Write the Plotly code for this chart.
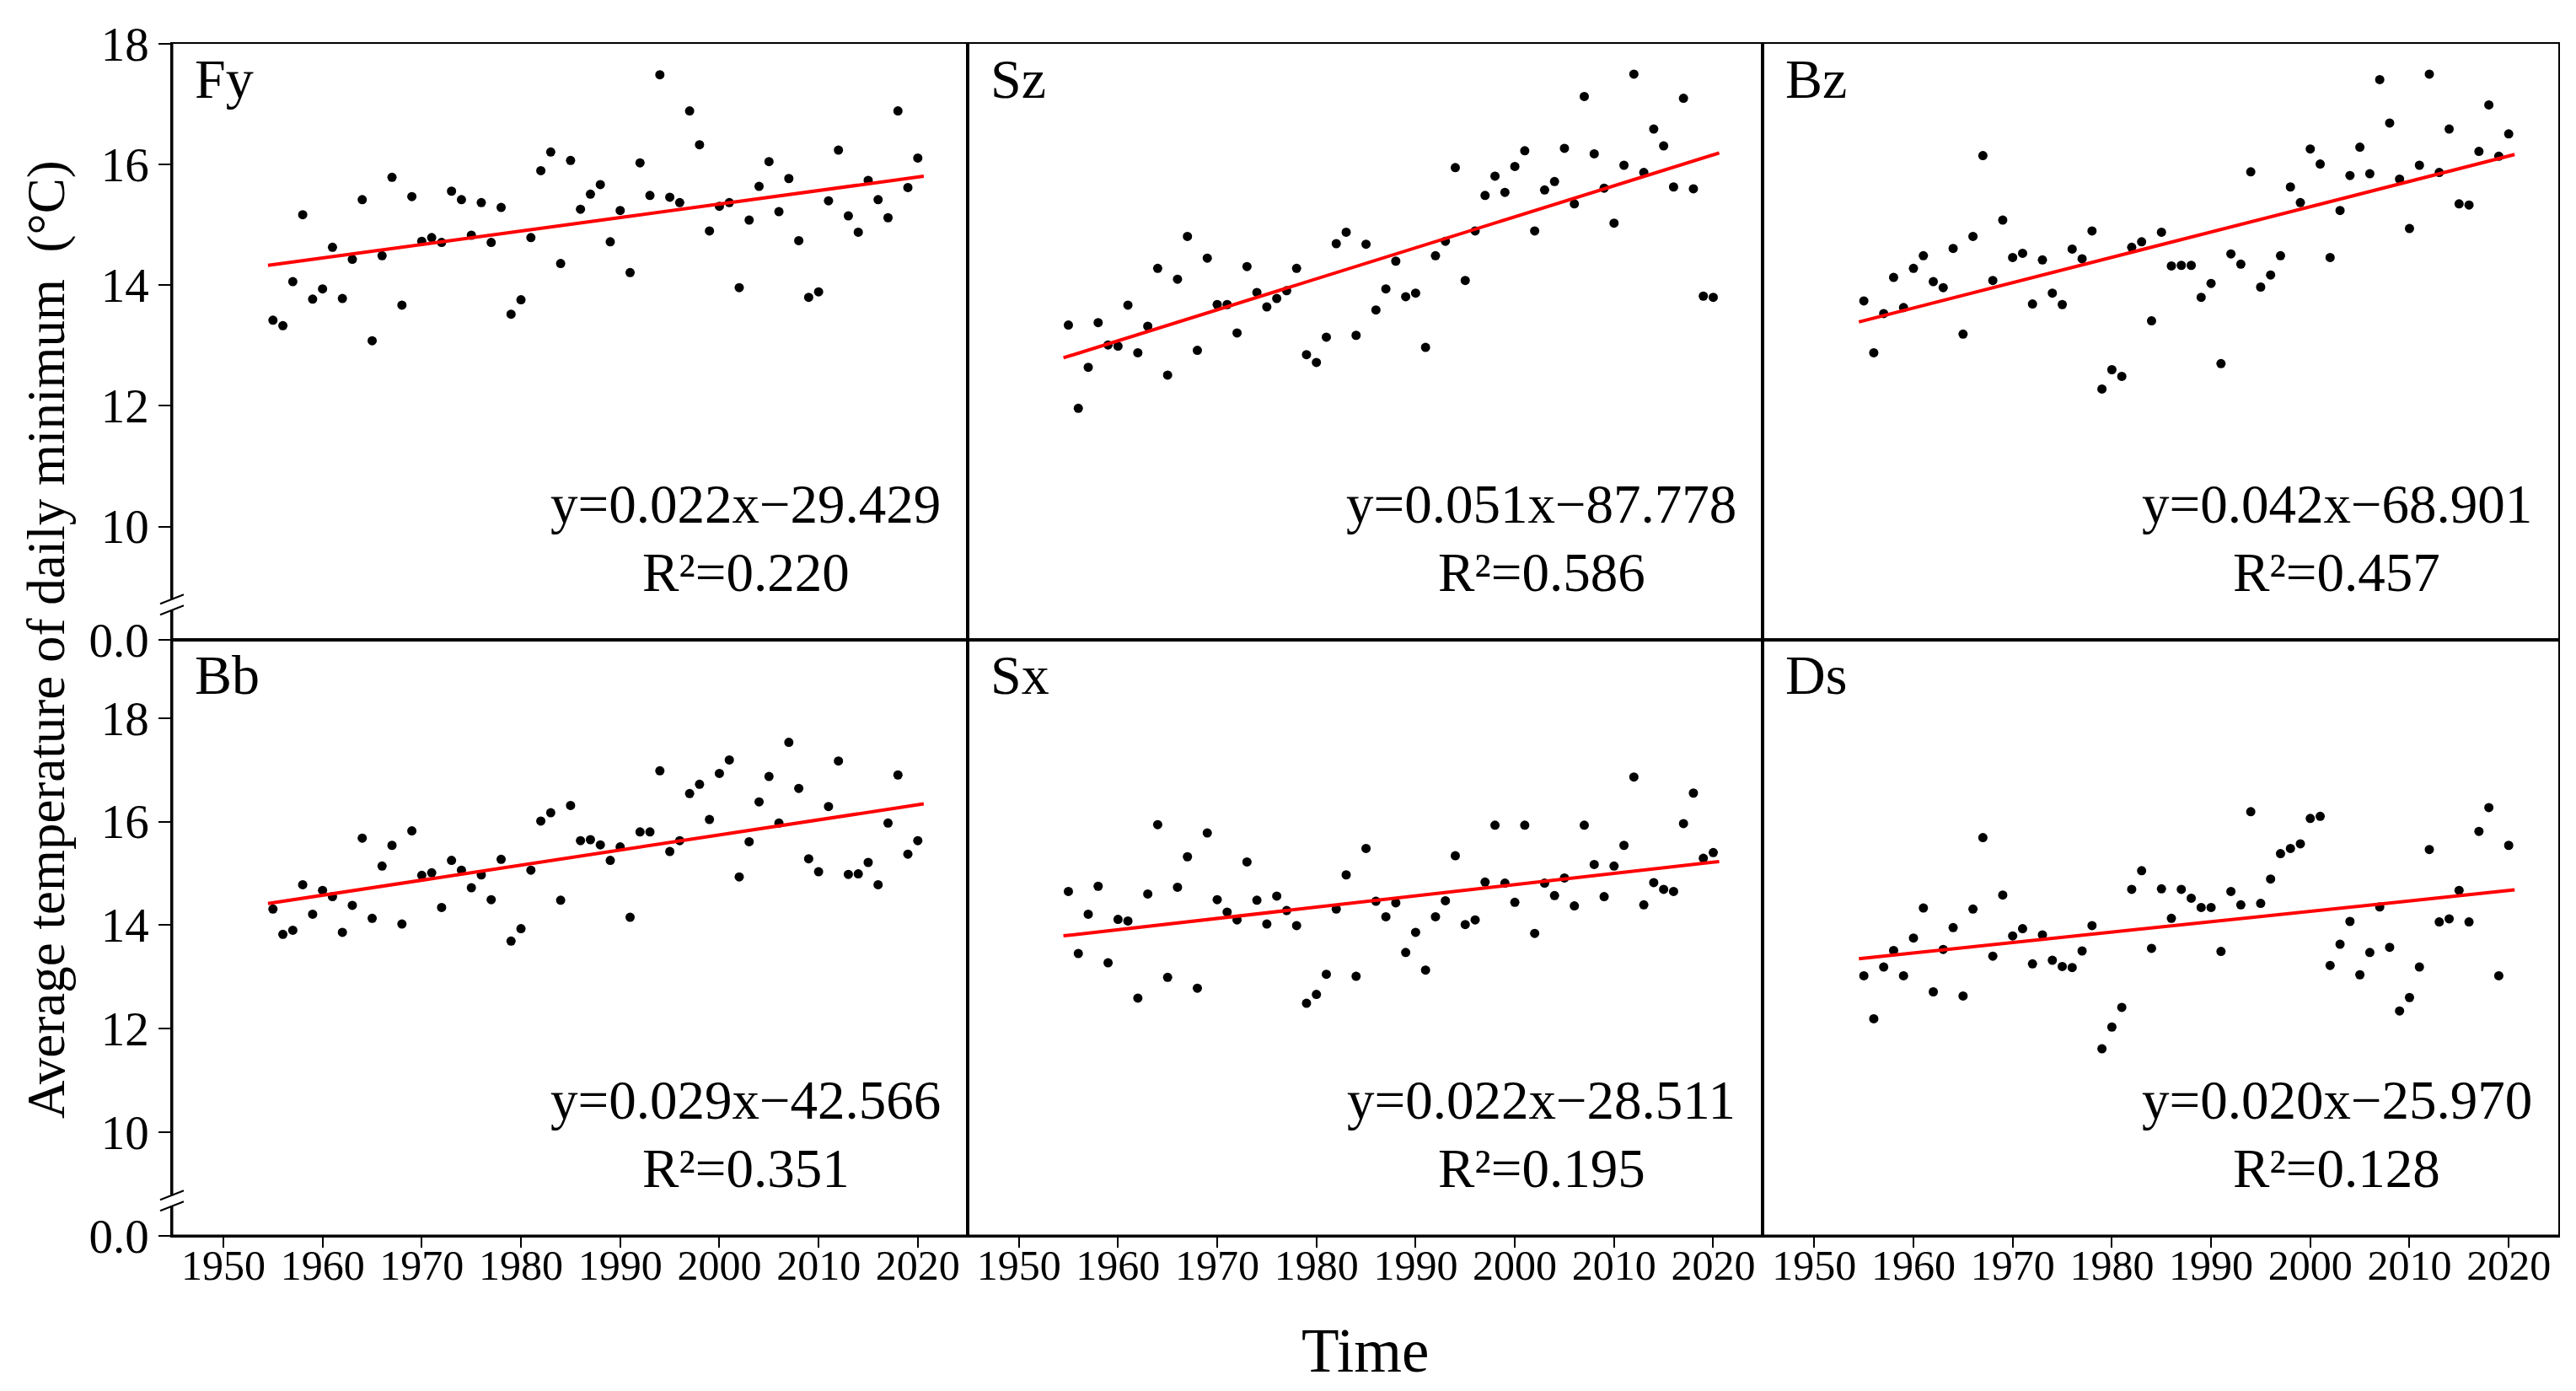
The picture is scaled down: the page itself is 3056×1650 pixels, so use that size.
import numpy as np
import plotly.graph_objects as go

# ---------------- data ----------------
years = list(range(1955, 2021))
panel_names = ["Fy", "Sz", "Bz", "Bb", "Sx", "Ds"]

fy = [13.42, 13.33, 14.06, 15.17, 13.77, 13.94, 14.63, 13.78, 14.43, 15.42,
      13.08, 14.49, 15.79, 13.67, 15.47, 14.73, 14.79, 14.71, 15.56, 15.42,
      14.83, 15.37, 14.71, 15.29, 13.52, 13.76, 14.79, 15.90, 16.21, 14.36,
      16.07, 15.26, 15.51, 15.67, 14.72, 15.24, 14.21, 16.03, 15.49, 17.49,
      15.46, 15.37, 16.89, 16.33, 14.90, 15.31, 15.37, 13.96, 15.08, 15.64,
      16.05, 15.22, 15.77, 14.74, 13.80, 13.89, 15.40, 16.24, 15.15, 14.88,
      15.74, 15.42, 15.12, 16.89, 15.62, 16.11]

sz = [13.34, 11.96, 12.64, 13.38, 13.01, 12.99, 13.67, 12.88, 13.32, 14.28,
      12.51, 14.10, 14.81, 12.92, 14.45, 13.68, 13.68, 13.21, 14.31, 13.88,
      13.64, 13.78, 13.91, 14.28, 12.85, 12.72, 13.14, 14.69, 14.88, 13.17,
      14.68, 13.59, 13.94, 14.40, 13.81, 13.87, 12.97, 14.49, 14.73, 15.95,
      14.08, 14.90, 15.49, 15.81, 15.54, 15.97, 16.23, 14.90, 15.58, 15.72,
      16.27, 15.35, 17.13, 16.18, 15.61, 15.03, 15.99, 17.50, 15.87, 16.59,
      16.31, 15.63, 17.10, 15.60, 13.82, 13.80]

bz = [13.74, 12.88, 13.53, 14.13, 13.63, 14.28, 14.49, 14.06, 13.96, 14.61,
      13.19, 14.81, 16.15, 14.08, 15.08, 14.46, 14.53, 13.69, 14.42, 13.87,
      13.68, 14.60, 14.44, 14.90, 12.28, 12.60, 12.49, 14.63, 14.72, 13.41,
      14.88, 14.32, 14.33, 14.33, 13.80, 14.03, 12.70, 14.52, 14.35, 15.88,
      13.97, 14.17, 14.49, 15.63, 15.37, 16.26, 16.01, 14.46, 15.24, 15.82,
      16.29, 15.85, 17.41, 16.69, 15.76, 14.94, 15.99, 17.50, 15.87, 16.59,
      15.35, 15.33, 16.22, 16.99, 16.14, 16.51]

bb = [14.31, 13.82, 13.90, 14.78, 14.21, 14.67, 14.55, 13.86, 14.38, 15.68,
      14.13, 15.14, 15.54, 14.02, 15.82, 14.96, 15.01, 14.34, 15.25, 15.06,
      14.72, 14.97, 14.49, 15.27, 13.69, 13.93, 15.06, 16.01, 16.17, 14.48,
      16.31, 15.63, 15.65, 15.55, 15.25, 15.51, 14.15, 15.80, 15.80, 16.98,
      15.42, 15.63, 16.54, 16.72, 16.04, 16.93, 17.19, 14.93, 15.61, 16.38,
      16.87, 15.97, 17.53, 16.64, 15.28, 15.03, 16.29, 17.17, 14.98, 14.99,
      15.21, 14.78, 15.97, 16.90, 15.37, 15.63]

sx = [14.65, 13.45, 14.21, 14.75, 13.27, 14.11, 14.08, 12.59, 14.60, 15.94,
      12.99, 14.73, 15.32, 12.78, 15.78, 14.49, 14.25, 14.10, 15.22, 14.48,
      14.02, 14.56, 14.28, 13.99, 12.49, 12.66, 13.05, 14.31, 14.97, 13.01,
      15.48, 14.46, 14.16, 14.43, 13.47, 13.86, 13.13, 14.16, 14.47, 15.34,
      14.01, 14.10, 14.83, 15.93, 14.81, 14.44, 15.93, 13.84, 14.81, 14.57,
      14.91, 14.37, 15.93, 15.17, 14.55, 15.14, 15.54, 16.86, 14.39, 14.82,
      14.69, 14.65, 15.96, 16.55, 15.29, 15.40]

ds = [13.02, 12.19, 13.19, 13.51, 13.02, 13.75, 14.33, 12.71, 13.53, 13.95,
      12.63, 14.31, 15.69, 13.40, 14.58, 13.79, 13.93, 13.25, 13.81, 13.32,
      13.20, 13.18, 13.50, 13.99, 11.61, 12.03, 12.41, 14.69, 15.05, 13.55,
      14.70, 14.13, 14.69, 14.52, 14.34, 14.34, 13.49, 14.65, 14.39, 16.19,
      14.42, 14.89, 15.38, 15.48, 15.57, 16.06, 16.10, 13.22, 13.63, 14.07,
      13.04, 13.47, 14.35, 13.57, 12.34, 12.60, 13.19, 15.46, 14.06, 14.12,
      14.67, 14.06, 15.81, 16.27, 13.02, 15.54]

series = [fy, sz, bz, bb, sx, ds]

equations = ["y=0.022x−29.429", "y=0.051x−87.778", "y=0.042x−68.901",
             "y=0.029x−42.566", "y=0.022x−28.511", "y=0.020x−25.970"]
r2_labels = ["R²=0.220", "R²=0.586", "R²=0.457",
             "R²=0.351", "R²=0.195", "R²=0.128"]

x_tick_vals = [1950, 1960, 1970, 1980, 1990, 2000, 2010, 2020]
y_tick_vals = [10, 12, 14, 16, 18]
break_label = "0.0"
x_title = "Time"
y_title = "Average temperature of daily minimum\u00a0\u00a0(°C)"

# ---------------- style ----------------
FONT = "Liberation Serif"
W, H = 3056, 1650
ML, MR, MT, MB = 196, 29, 44, 192
x_range = [1944.82, 2025.0]
row_ranges = [[8.12, 18.003], [7.995, 19.51]]
row_break_vals = [8.126, 8.0]
fit_span = [1954.5, 2020.6]

fig = go.Figure()

x_domains = [[0, 1/3], [1/3, 2/3], [2/3, 1]]
y_domains = [[0.5, 1.0], [0.0, 0.5]]

annotations = []
shapes = []

for i, (name, vals) in enumerate(zip(panel_names, series)):
    row, col = divmod(i, 3)
    n = i + 1
    xa = "x" if n == 1 else f"x{n}"
    ya = "y" if n == 1 else f"y{n}"
    xk = "xaxis" if n == 1 else f"xaxis{n}"
    yk = "yaxis" if n == 1 else f"yaxis{n}"

    fig.add_trace(go.Scatter(x=years, y=vals, mode="markers",
                             marker=dict(color="black", size=11),
                             xaxis=xa, yaxis=ya, showlegend=False))
    slope, intercept = np.polyfit(years, vals, 1)
    fx = np.array(fit_span)
    fig.add_trace(go.Scatter(x=fx, y=slope * fx + intercept, mode="lines",
                             line=dict(color="red", width=4),
                             xaxis=xa, yaxis=ya, showlegend=False))

    bottom = row == 1
    left = col == 0
    fig.layout[xk] = dict(
        domain=x_domains[col], range=x_range, anchor=ya,
        showline=True, mirror=True, linecolor="black", linewidth=1.6,
        showgrid=False, zeroline=False,
        ticks="outside" if bottom else "", ticklen=12, tickwidth=2, tickcolor="black",
        tickvals=x_tick_vals, showticklabels=bottom, ticklabelstandoff=-22,
        tickfont=dict(family=FONT, size=50, color="black"),
    )
    ticks_y = [row_break_vals[row]] + y_tick_vals
    text_y = [break_label] + [str(v) for v in y_tick_vals]
    fig.layout[yk] = dict(
        domain=y_domains[row], range=row_ranges[row], anchor=xa,
        showline=True, mirror=True, linecolor="black", linewidth=1.6,
        showgrid=False, zeroline=False,
        ticks="outside" if left else "", ticklen=14, tickwidth=2, tickcolor="black",
        tickvals=ticks_y, ticktext=text_y, showticklabels=left,
        tickfont=dict(family=FONT, size=57, color="black"),
    )

    # panel name
    annotations.append(dict(text=name, xref=f"{xa} domain", yref=f"{ya} domain",
                            x=0, y=1, xanchor="left", yanchor="top",
                            xshift=25, yshift=-3, showarrow=False,
                            font=dict(family=FONT, size=66, color="black")))
    # equation and R2
    annotations.append(dict(text=equations[i], xref=f"{xa} domain", yref=f"{ya} domain",
                            x=0.7216, y=0, xanchor="center", yanchor="bottom",
                            yshift=123, showarrow=False,
                            font=dict(family=FONT, size=65, color="black")))
    annotations.append(dict(text=r2_labels[i], xref=f"{xa} domain", yref=f"{ya} domain",
                            x=0.7216, y=0, xanchor="center", yanchor="bottom",
                            yshift=42, showarrow=False,
                            font=dict(family=FONT, size=65, color="black")))

    # axis break marks on left column
    if left:
        yd = f"{ya} domain"
        shapes.append(dict(type="line", xref="paper", yref=yd,
                           xsizemode="pixel", ysizemode="pixel",
                           xanchor=0, yanchor=0.059,
                           x0=0, x1=0, y0=-6, y1=6,
                           line=dict(color="white", width=6), layer="above"))
        for off in (0, -13):
            shapes.append(dict(type="line", xref="paper", yref=yd,
                               xsizemode="pixel", ysizemode="pixel",
                               xanchor=0, yanchor=0.059,
                               x0=-14, x1=14, y0=1 + off, y1=12 + off,
                               line=dict(color="black", width=2), layer="above"))

# thicker outer left and bottom axes
shapes.append(dict(type="line", xref="paper", yref="paper", x0=0, x1=0, y0=0, y1=1,
                   line=dict(color="black", width=3), layer="below"))
shapes.append(dict(type="line", xref="paper", yref="paper", x0=0, x1=1, y0=0, y1=0,
                   line=dict(color="black", width=3), layer="below"))

annotations.append(dict(text=x_title, xref="paper", yref="paper", x=0.5, y=0,
                        xanchor="center", yanchor="top", yshift=-94, showarrow=False,
                        font=dict(family=FONT, size=73, color="black")))
annotations.append(dict(text=y_title, xref="paper", yref="paper", x=0, y=0.5,
                        xanchor="center", yanchor="middle", xshift=-149, textangle=-90,
                        showarrow=False,
                        font=dict(family=FONT, size=63, color="black")))

fig.update_layout(width=W, height=H, margin=dict(l=ML, r=MR, t=MT, b=MB),
                  paper_bgcolor="white", plot_bgcolor="white",
                  annotations=annotations, shapes=shapes, showlegend=False)

fig.write_html("out.html")
